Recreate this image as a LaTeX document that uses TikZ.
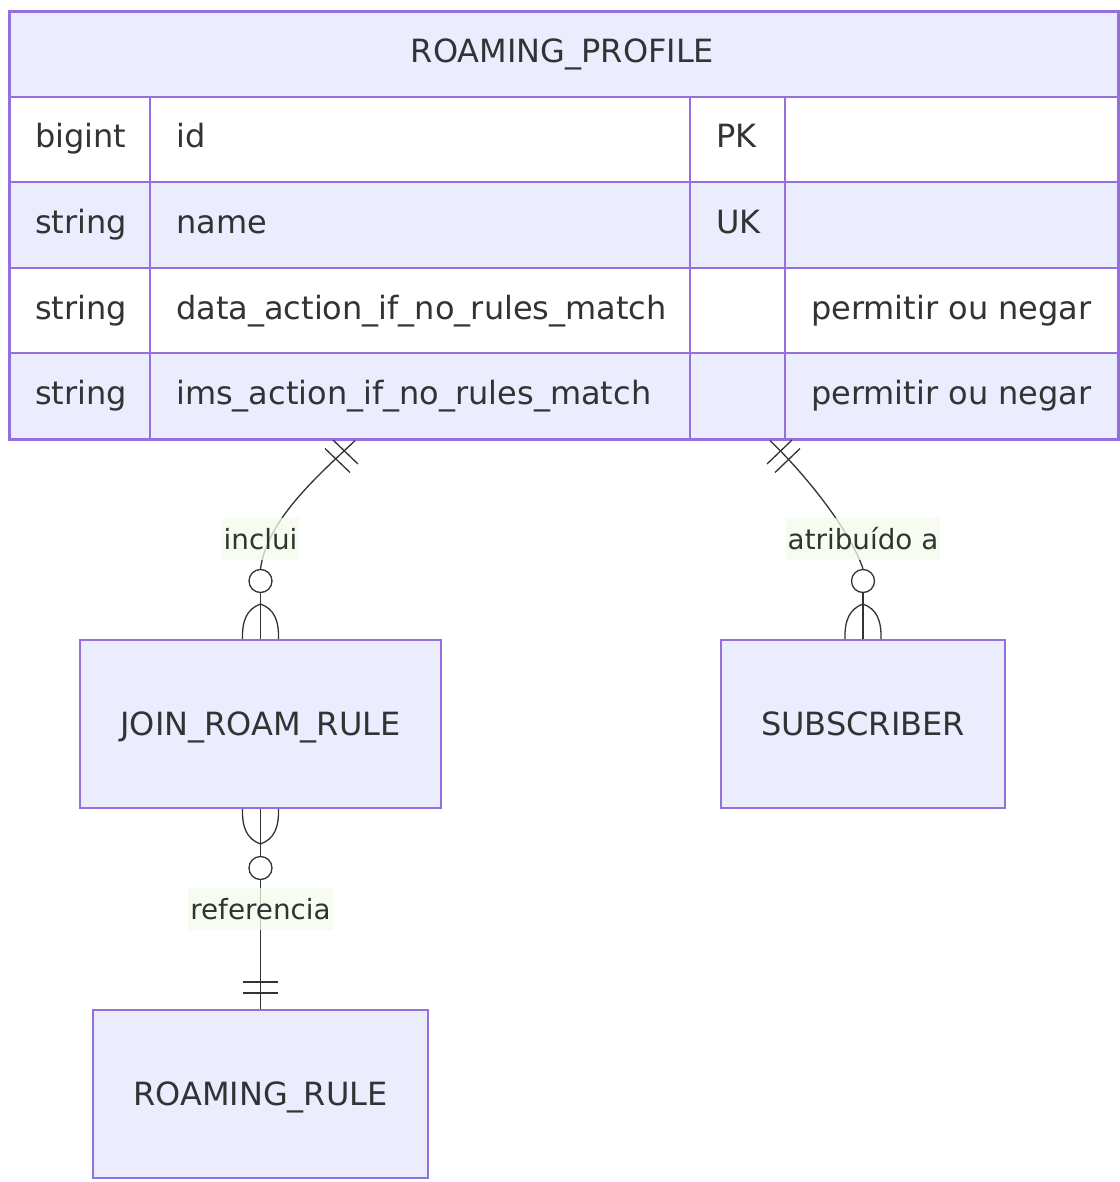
\documentclass[tikz,border=0pt]{standalone}
\usepackage{fontspec}
\setmainfont{DejaVu Sans}
\usetikzlibrary{calc}
\definecolor{bd}{HTML}{9370DB}
\definecolor{fl}{HTML}{ECECFF}
\definecolor{tx}{HTML}{333333}
\definecolor{ln}{HTML}{333333}
\definecolor{lb}{HTML}{F3FBEC}
\tikzset{
  entity/.style={draw=bd, fill=fl, line width=1.8pt, inner sep=0pt, text height=23pt, text depth=0pt, font=\fontsize{32}{38}\selectfont},
  cell/.style={anchor=base west, inner sep=0pt, font=\fontsize{32}{38}\selectfont},
  rel/.style={draw=ln, line width=1.3pt},
  relcircle/.style={circle, draw=ln, fill=white, line width=1.3pt, minimum size=23pt, inner sep=0pt},
  rellabel/.style={fill=lb, fill opacity=0.75, text opacity=1, inner xsep=2pt, minimum height=42pt, text height=20pt, text depth=0pt, font=\fontsize{27.8}{33}\selectfont},
}
\begin{document}
\begin{tikzpicture}[x=1pt,y=-1pt,text=tx]
\useasboundingbox[fill=white] (0,0) rectangle (1119,1182);
% ---- ROAMING_PROFILE table
\fill[fl] (8,10) rectangle (1117,97);
\fill[white] (8,97) rectangle (1117,182);
\fill[fl] (8,182) rectangle (1117,268);
\fill[white] (8,268) rectangle (1117,353);
\fill[fl] (8,353) rectangle (1117,438);
\begin{scope}[draw=bd, line width=2.6pt]
\draw (8,97) -- (1117,97);
\draw (8,182) -- (1117,182);
\draw (8,268) -- (1117,268);
\draw (8,353) -- (1117,353);
\draw (150,97) -- (150,438);
\draw (690,97) -- (690,438);
\draw (785,97) -- (785,438);
\end{scope}
\node[draw=bd, line width=2.6pt, minimum width=1109pt, minimum height=428pt, inner sep=0pt, anchor=north west] (rp) at (8,10) {};
\node[cell, anchor=base] (rph) at (562.5,63) {ROAMING\_PROFILE};
\node[cell] (c11) at (35,148) {bigint};
\node[cell] (c12) at (176,148) {id};
\node[cell] (c13) at (716,148) {PK};
\node[cell] (c21) at (35,233.5) {string};
\node[cell] (c22) at (176,233.5) {name};
\node[cell] (c23) at (716,233.5) {UK};
\node[cell] (c31) at (35,319) {string};
\node[cell] (c32) at (176,319) {data\_action\_if\_no\_rules\_match};
\node[cell] (c34) at (811,319) {permitir ou negar};
\node[cell] (c41) at (35,404) {string};
\node[cell] (c42) at (176,404) {ims\_action\_if\_no\_rules\_match};
\node[cell] (c44) at (811,404) {permitir ou negar};
% ---- entities
\node[entity, minimum width=361pt, minimum height=168pt] (jrr) at (260.5,724) {JOIN\_ROAM\_RULE};
\node[entity, minimum width=284pt, minimum height=168pt] (sub) at (863,724) {SUBSCRIBER};
\node[entity, minimum width=335pt, minimum height=168pt] (rr) at (260.5,1094) {ROAMING\_RULE};
% ---- circles
\node[relcircle] (o1) at (260.5,581) {};
\node[relcircle] (o2) at (863,581) {};
\node[relcircle] (o3) at (260.5,868) {};
\coordinate (s1) at ($(rp.south west)+(347,0)$);
\coordinate (s2) at ($(rp.south west)+(762,0)$);
% ---- relation 1: ROAMING_PROFILE ||--o{ JOIN_ROAM_RULE
\draw[rel] (s1) .. controls (320,474) and (267,519) .. (o1.north);
\draw[rel] (345.5,452) ++(-12.5,-12) -- ++(25,24);
\draw[rel] (337.5,460.5) ++(-12.5,-12) -- ++(25,24);
\draw[rel] (o1.south) -- (jrr.north);
\draw[rel] ($(jrr.north)+(-18,0)$) .. controls (242,620) and (247,609) .. (260.5,604);
\draw[rel] ($(jrr.north)+(18,0)$) .. controls (279,620) and (274,609) .. (260.5,604);
% ---- relation 2: ROAMING_PROFILE ||--o{ SUBSCRIBER
\draw[rel] (s2) .. controls (805,474) and (850,530) .. (o2.north);
\draw[rel] (779.5,452) ++(-12.5,12) -- ++(25,-24);
\draw[rel] (787.5,460.5) ++(-12.5,12) -- ++(25,-24);
\draw[rel] (o2.south) -- (sub.north);
\draw[rel] ($(sub.north)+(-18,0)$) .. controls (844.5,620) and (849.5,609) .. (863,604);
\draw[rel] ($(sub.north)+(18,0)$) .. controls (881.5,620) and (876.5,609) .. (863,604);
% ---- relation 3: JOIN_ROAM_RULE }o--|| ROAMING_RULE
\draw[rel] (jrr.south) -- (o3.north);
\draw[rel] ($(jrr.south)+(-18,0)$) .. controls (242,828) and (247,839) .. (260.5,844);
\draw[rel] ($(jrr.south)+(18,0)$) .. controls (279,828) and (274,839) .. (260.5,844);
\draw[rel] (o3.south) -- (rr.north);
\draw[rel] (243,982) -- (278,982);
\draw[rel] (243,993) -- (278,993);
% ---- labels
\node[rellabel] (l1) at (260.5,539) {inclui};
\node[rellabel] (l2) at (863,539) {atribuído a};
\node[rellabel] (l3) at (260.5,909) {referencia};
\end{tikzpicture}
\end{document}
